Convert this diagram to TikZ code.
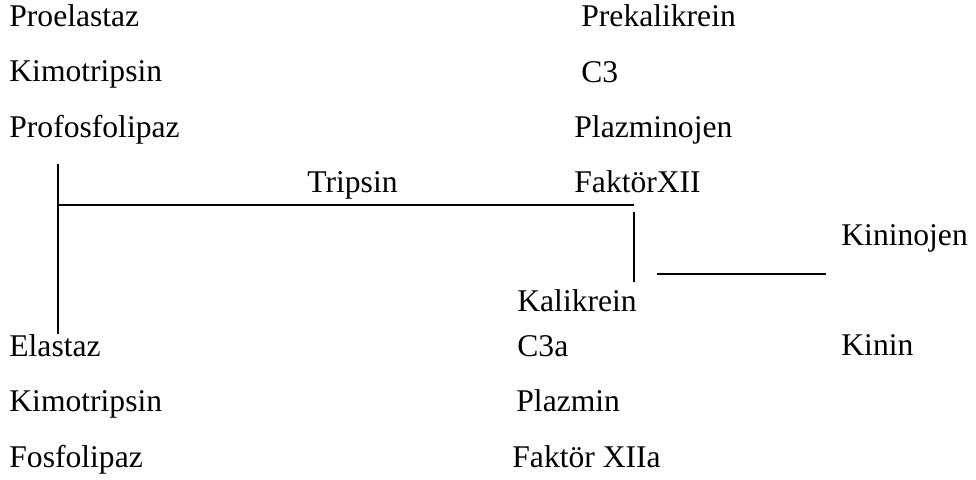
\documentclass[tikz,border=0pt]{standalone}
\usepackage{fontspec}
\setmainfont{Liberation Serif}

\tikzset{
    lbl/.style={anchor=base west, inner sep=0pt, font=\fontsize{15.8}{18}\selectfont},
    bar/.style={line width=0.9pt}
}

\begin{document}
\begin{tikzpicture}[x=0.5pt, y=-0.5pt]

% Page frame (pixel units, origin top left)
\useasboundingbox (0,0) rectangle (976,479);

% --- Left column: precursors and products ---
\node[lbl] (proela)  at (9,26)  {Proelastaz};
\node[lbl] (kimoa)   at (9,81)  {Kimotripsin};
\node[lbl] (profos)  at (9,137) {Profosfolipaz};
\node[lbl] (ela)     at (9,356) {Elastaz};
\node[lbl] (kimob)   at (9,411) {Kimotripsin};
\node[lbl] (fos)     at (9,467) {Fosfolipaz};

% --- Middle column ---
\node[lbl] (prekal)  at (581,26)  {Prekalikrein};
\node[lbl] (cthree)  at (581,82)  {C3};
\node[lbl] (plzjen)  at (574,137) {Plazminojen};
\node[lbl] (tripsin) at (307,192) {Tripsin};
\node[lbl] (fxii)    at (574,192) {FaktörXII};
\node[lbl] (kalik)   at (517,311) {Kalikrein};
\node[lbl] (cthreea) at (517,356) {C3a};
\node[lbl] (plzmin)  at (516,411) {Plazmin};
\node[lbl] (fxiia)   at (512,467) {Faktör XIIa};

% --- Right column ---
\node[lbl] (kinjen)  at (841,245) {Kininojen};
\node[lbl] (kinin)   at (841,355) {Kinin};

% --- Line ends ---
\coordinate (lefttop) at (58,164);
\coordinate (leftbot) at (58,334);
\coordinate (corner)  at (58,205);
\coordinate (tripend) at (634,205);
\coordinate (kaltop)  at (634,212);
\coordinate (kalbot)  at (634,282);
\coordinate (kinl)    at (657,274);
\coordinate (kinr)    at (826,274);

% --- Connectors ---
\draw[bar] (lefttop) -- (leftbot);
\draw[bar] (corner) -- (tripend);
\draw[bar] (kaltop) -- (kalbot);
\draw[bar] (kinl) -- (kinr);

\end{tikzpicture}
\end{document}
